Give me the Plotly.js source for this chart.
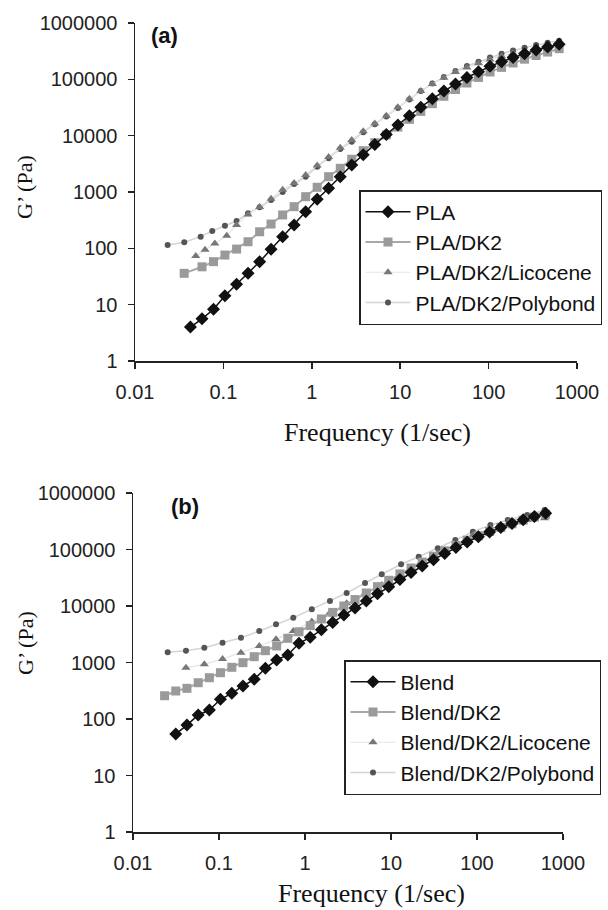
<!DOCTYPE html>
<html>
<head>
<meta charset="utf-8">
<script src="https://cdn.plot.ly/plotly-3.0.1.min.js"></script>
<style>html,body{margin:0;padding:0;background:#fff;}#chart{width:608px;height:910px;}</style>
</head>
<body>
<div id="chart"></div>
<script>
// ---------- Panel (a) ----------
var freqA_PLA = [0.0424, 0.0573, 0.0773, 0.104, 0.141, 0.190, 0.257, 0.346, 0.468, 0.631, 0.852, 1.15, 1.55, 2.10, 2.83, 3.82, 5.16, 6.97, 9.41, 12.7, 17.1, 23.1, 31.2, 42.2, 56.9, 76.9, 103.8, 140.1, 189.1, 255.3, 344.6, 465.2, 628];
var gA_PLA = [4.0, 5.6, 8.3, 14.4, 23, 36, 58, 96, 161, 260, 447, 742, 1164, 1871, 3014, 4600, 7000, 10500, 15500, 22500, 32000, 45000, 62000, 83000, 108000, 137000, 170000, 205000, 245000, 285000, 330000, 375000, 420000];

var freqA_DK2 = [0.036, 0.0573, 0.0773, 0.104, 0.141, 0.190, 0.257, 0.346, 0.468, 0.631, 0.852, 1.15, 1.55, 2.10, 2.83, 3.82, 5.16, 6.97, 9.41, 12.7, 17.1, 23.1, 31.2, 42.2, 56.9, 76.9, 103.8, 140.1, 189.1, 255.3, 344.6, 465.2, 628];
var gA_DK2 = [36, 47, 58, 76, 97, 131, 197, 270, 391, 549, 826, 1213, 1871, 2636, 3811, 5410, 7500, 10300, 14200, 19500, 27000, 37000, 50000, 66000, 86000, 108000, 135000, 163000, 195000, 228000, 265000, 305000, 350000];

var freqA_Lic = [0.0487, 0.062, 0.080, 0.109, 0.141, 0.190, 0.257, 0.346, 0.468, 0.631, 0.852, 1.15, 1.55, 2.10, 2.83, 3.82, 5.16, 6.97, 9.41, 12.7, 17.1, 23.1, 31.2, 42.2, 56.9, 76.9, 103.8, 140.1, 189.1, 255.3, 344.6, 465.2, 628];
var gA_Lic = [73, 94, 122, 168, 260, 400, 540, 760, 1100, 1450, 2000, 2950, 4200, 6100, 8400, 12000, 16500, 22500, 32000, 45000, 62000, 83000, 107000, 135000, 163000, 193000, 225000, 258000, 290000, 322000, 352000, 380000, 405000];

var freqA_Poly = [0.0234, 0.0361, 0.0553, 0.0748, 0.104, 0.141, 0.190, 0.257, 0.346, 0.468, 0.631, 0.852, 1.15, 1.55, 2.10, 2.83, 3.82, 5.16, 6.97, 9.41, 12.7, 17.1, 23.1, 31.2, 42.2, 56.9, 76.9, 103.8, 140.1, 189.1, 255.3, 344.6, 465.2, 628];
var gA_Poly = [115, 128, 161, 203, 252, 306, 419, 535, 721, 1000, 1380, 1871, 2813, 3963, 5800, 7817, 11500, 16000, 22000, 31000, 44000, 62000, 84000, 110000, 140000, 172000, 205000, 245000, 285000, 325000, 365000, 405000, 445000, 485000];

// ---------- Panel (b) ----------
var freqB_Blend = [0.0314, 0.0424, 0.0573, 0.0773, 0.104, 0.141, 0.190, 0.257, 0.346, 0.468, 0.631, 0.852, 1.15, 1.55, 2.10, 2.83, 3.82, 5.16, 6.97, 9.41, 12.7, 17.1, 23.1, 31.2, 42.2, 56.9, 76.9, 103.8, 140.1, 189.1, 255.3, 344.6, 465.2, 628];
var gB_Blend = [54, 78, 118, 144, 223, 285, 384, 504, 789, 1107, 1358, 2186, 2793, 3800, 5100, 6900, 9200, 12300, 16500, 22000, 29500, 39000, 51000, 66000, 85000, 108000, 136000, 168000, 204000, 244000, 288000, 335000, 385000, 440000];

var freqB_DK2 = [0.0233, 0.0314, 0.0424, 0.0573, 0.0773, 0.104, 0.141, 0.190, 0.257, 0.346, 0.468, 0.631, 0.852, 1.15, 1.55, 2.10, 2.83, 3.82, 5.16, 6.97, 9.41, 12.7, 17.1, 23.1, 31.2, 42.2, 56.9, 76.9, 103.8, 140.1, 189.1, 255.3, 344.6, 465.2, 628];
var gB_DK2 = [258, 313, 349, 439, 538, 660, 822, 993, 1268, 1618, 1960, 2680, 3500, 4500, 5900, 7700, 10000, 13000, 17000, 22000, 28500, 37000, 47000, 60000, 76000, 95000, 118000, 145000, 175000, 208000, 245000, 285000, 330000, 375000, 420000];

var freqB_Lic = [0.0413, 0.0675, 0.110, 0.180, 0.294, 0.460, 0.731, 1.20, 1.95, 3.05, 4.99, 7.8, 13.1, 21, 35, 56, 89.5, 143, 228, 383, 611];
var gB_Lic = [809, 929, 1153, 1492, 1960, 2570, 3612, 5300, 7600, 11170, 16800, 23500, 35400, 53200, 85700, 120000, 180000, 237000, 271000, 333000, 357000];

var freqB_Poly = [0.0253, 0.0413, 0.0675, 0.110, 0.180, 0.294, 0.460, 0.731, 1.20, 1.95, 3.05, 4.99, 7.8, 13.1, 21, 35, 56, 89.5, 143, 228, 383, 611];
var gB_Poly = [1517, 1618, 1828, 2240, 2748, 3612, 4748, 6210, 8800, 12250, 17000, 25500, 36400, 54700, 74600, 105000, 147000, 206000, 271000, 333000, 408000, 500000];

// ---------- Labels ----------
var namesA = ['PLA', 'PLA/DK2', 'PLA/DK2/Licocene', 'PLA/DK2/Polybond'];
var namesB = ['Blend', 'Blend/DK2', 'Blend/DK2/Licocene', 'Blend/DK2/Polybond'];
var xTickVals = [0.01, 0.1, 1, 10, 100, 1000];
var xTickText = ['0.01', '0.1', '1', '10', '100', '1000'];
var yTickVals = [1, 10, 100, 1000, 10000, 100000, 1000000];
var yTickText = ['1', '10', '100', '1000', '10000', '100000', '1000000'];
var xTitle = 'Frequency (1/sec)';
var yTitle = 'G\u2019 (Pa)';
var panelLabels = ['(a)', '(b)'];

var W = 608, H = 910;
function px(x){ return x / W; }
function py(y){ return 1 - y / H; }

var SANS = 'Liberation Sans, Arial, sans-serif';
var SERIF = 'Liberation Serif, Times New Roman, serif';

var styles = [
  {marker:{symbol:'diamond', size:10, color:'#111'}, line:{color:'#111', width:1.5}},
  {marker:{symbol:'square', size:9, color:'#9a9a9a'}, line:{color:'#a8a8a8', width:2}},
  {marker:{symbol:'triangle-up', size:8, color:'#777'}, line:{color:'#e4e4e4', width:1.2}},
  {marker:{symbol:'circle', size:6, color:'#555'}, line:{color:'#d4d4d4', width:1.5}}
];

function mk(x, y, name, st, xa, ya, leg, grp){
  return {x:x, y:y, name:name, type:'scatter', mode:'lines+markers',
    marker:st.marker, line:st.line, xaxis:xa, yaxis:ya, legend:leg, legendgroup:grp};
}

// Drawing order: Polybond first (bottom), PLA/Blend last (top); legend shown reversed
var data = [
  mk(freqA_Poly, gA_Poly, namesA[3], styles[3], 'x', 'y', 'legend', 'a3'),
  mk(freqA_Lic, gA_Lic, namesA[2], styles[2], 'x', 'y', 'legend', 'a2'),
  mk(freqA_DK2, gA_DK2, namesA[1], styles[1], 'x', 'y', 'legend', 'a1'),
  mk(freqA_PLA, gA_PLA, namesA[0], styles[0], 'x', 'y', 'legend', 'a0'),
  mk(freqB_Poly, gB_Poly, namesB[3], styles[3], 'x2', 'y2', 'legend2', 'b3'),
  mk(freqB_Lic, gB_Lic, namesB[2], styles[2], 'x2', 'y2', 'legend2', 'b2'),
  mk(freqB_DK2, gB_DK2, namesB[1], styles[1], 'x2', 'y2', 'legend2', 'b1'),
  mk(freqB_Blend, gB_Blend, namesB[0], styles[0], 'x2', 'y2', 'legend2', 'b0')
];

function xAxis(dom, anchor){
  return {type:'log', range:[-2, 3], domain:dom, anchor:anchor,
    tickvals:xTickVals, ticktext:xTickText, ticks:'outside', ticklen:6, tickwidth:1.5, tickcolor:'#222',
    showline:true, linecolor:'#222', linewidth:1.5, showgrid:false, zeroline:false,
    tickfont:{family:SANS, size:20, color:'#222'}, ticklabelstandoff:6};
}
function yAxis(dom, anchor){
  return {type:'log', range:[0, 6], domain:dom, anchor:anchor,
    tickvals:yTickVals, ticktext:yTickText, ticks:'outside', ticklen:6, tickwidth:1.5, tickcolor:'#222',
    showline:true, linecolor:'#222', linewidth:1.5, showgrid:false, zeroline:false,
    tickfont:{family:SANS, size:20, color:'#222'}, ticklabelstandoff:6};
}

function legendCfg(x, y){
  return {x:px(x), y:py(y), xanchor:'left', yanchor:'top', bgcolor:'#fff',
    bordercolor:'#222', borderwidth:1.5, font:{family:SANS, size:21, color:'#111'},
    tracegroupgap:6, traceorder:'reversed', itemwidth:45};
}

var layout = {
  width:W, height:H, margin:{l:0, r:0, t:0, b:0},
  paper_bgcolor:'#fff', plot_bgcolor:'#fff', showlegend:true,
  xaxis: xAxis([px(135), px(577)], 'y'),
  yaxis: yAxis([py(361), py(23)], 'x'),
  xaxis2: xAxis([px(133), px(563)], 'y2'),
  yaxis2: yAxis([py(832), py(493)], 'x2'),
  legend: legendCfg(359, 190),
  legend2: legendCfg(344, 660),
  annotations: [
    {text:xTitle, xref:'paper', yref:'paper', x:px(377), y:py(432), showarrow:false, xanchor:'center', yanchor:'middle', font:{family:SERIF, size:26, color:'#111'}},
    {text:xTitle, xref:'paper', yref:'paper', x:px(371), y:py(893), showarrow:false, xanchor:'center', yanchor:'middle', font:{family:SERIF, size:26, color:'#111'}},
    {text:yTitle, xref:'paper', yref:'paper', x:px(25), y:py(187), showarrow:false, textangle:-90, xanchor:'center', yanchor:'middle', font:{family:SERIF, size:22, color:'#111'}},
    {text:yTitle, xref:'paper', yref:'paper', x:px(25), y:py(643), showarrow:false, textangle:-90, xanchor:'center', yanchor:'middle', font:{family:SERIF, size:22, color:'#111'}},
    {text:'<b>' + panelLabels[0] + '</b>', xref:'paper', yref:'paper', x:px(164), y:py(36), showarrow:false, xanchor:'center', yanchor:'middle', font:{family:SANS, size:22, color:'#111'}},
    {text:'<b>' + panelLabels[1] + '</b>', xref:'paper', yref:'paper', x:px(185), y:py(506), showarrow:false, xanchor:'center', yanchor:'middle', font:{family:SANS, size:22, color:'#111'}}
  ]
};

Plotly.newPlot('chart', data, layout, {displayModeBar:false, staticPlot:true});
</script>
</body>
</html>
